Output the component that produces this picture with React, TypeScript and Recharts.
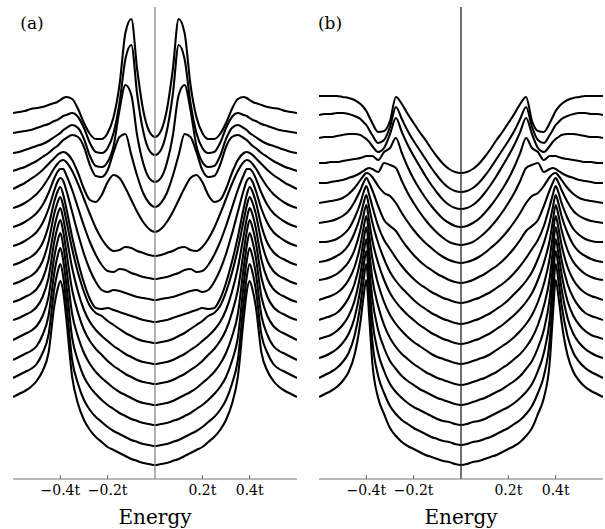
import React from "react";
import { LineChart, Line, XAxis, YAxis, ReferenceLine } from "recharts";

// energy grid for E >= 0 (curves are symmetric in E)
const halfEnergy = [
  0, 0.025, 0.05, 0.075, 0.1, 0.125, 0.15, 0.175, 0.2, 0.225, 0.25, 0.275, 0.3,
  0.325, 0.35, 0.375, 0.3875, 0.4, 0.4125, 0.425, 0.45, 0.475, 0.5, 0.525, 0.55,
  0.575, 0.6,
];

const energyTicks = [-0.4, -0.2, 0.2, 0.4];

// panel (a): offset DOS curves, top to bottom
const a00 = [342, 348, 369, 409, 460, 446, 394, 362, 346, 340, 340, 345, 356, 370, 380, 382, 381, 379, 377, 376, 374, 372, 371, 370, 368, 367, 366];
const a01 = [324, 329, 348, 384, 434, 420, 376, 346, 331, 326, 327, 336, 351, 362, 366, 364, 363, 361, 359, 358, 355, 353, 351, 349, 348, 347, 346];
const a02 = [297, 301, 316, 343, 384, 394, 369, 333, 317, 312, 313, 323, 340, 351, 354, 351, 349, 346, 344, 342, 338, 335, 333, 331, 329, 327, 326];
const a03 = [272, 276, 286, 303, 324, 345, 342, 327, 309, 302, 303, 314, 332, 342, 344, 341, 339, 336, 333, 331, 326, 322, 318, 315, 312, 310, 308];
const a04 = [247, 250, 257, 267, 279, 291, 301, 304, 297, 284, 277, 279, 290, 306, 319, 326, 327, 326, 324, 321, 315, 309, 304, 300, 296, 293, 290];
const a05 = [223, 224, 226, 228, 231, 232, 229, 228, 232, 240, 251, 265, 280, 295, 308, 317, 319, 318, 315, 311, 301, 292, 285, 280, 276, 273, 271];
const a06 = [200, 201, 202, 204, 206, 209, 210, 207, 208, 214, 224, 237, 253, 271, 289, 304, 310, 310, 307, 301, 286, 274, 266, 261, 257, 254, 252];
const a07 = [179, 180, 181, 182, 184, 186, 188, 189, 187, 189, 197, 209, 225, 245, 267, 289, 298, 301, 297, 289, 270, 256, 247, 242, 238, 235, 233];
const a08 = [157, 158, 159, 161, 163, 165, 167, 169, 171, 170, 171, 180, 196, 217, 242, 271, 284, 292, 287, 278, 253, 236, 227, 222, 219, 216, 214];
const a09 = [136, 137, 138, 140, 143, 146, 150, 154, 158, 163, 166, 173, 187, 206, 230, 259, 273, 282, 276, 266, 237, 218, 208, 203, 200, 197, 195];
const a10 = [115, 116, 117, 119, 122, 125, 129, 133, 138, 143, 149, 157, 169, 187, 211, 244, 260, 271, 264, 252, 219, 200, 190, 185, 182, 179, 177];
const a11 = [95, 96, 97, 99, 102, 105, 109, 113, 118, 124, 130, 138, 149, 166, 189, 228, 247, 259, 251, 238, 201, 182, 172, 167, 164, 161, 159];
const a12 = [74, 75, 76, 78, 81, 84, 87, 91, 96, 101, 107, 115, 126, 142, 165, 212, 233, 246, 237, 223, 182, 163, 153, 148, 145, 142, 139];
const a13 = [54, 55, 56, 58, 60, 63, 66, 70, 74, 79, 85, 92, 102, 118, 141, 195, 218, 231, 222, 207, 163, 144, 133, 128, 125, 122, 119];
const a14 = [33, 34, 35, 37, 39, 42, 45, 48, 52, 57, 62, 69, 79, 95, 119, 177, 202, 215, 206, 191, 144, 126, 115, 110, 107, 104, 101];
const a15 = [14, 15, 16, 18, 20, 23, 26, 29, 32, 37, 42, 49, 59, 75, 102, 161, 187, 198, 189, 174, 126, 108, 98, 92, 88, 85, 82];

// panel (b)
const b00 = [306, 307, 310, 315, 322, 330, 339, 347, 356, 365, 375, 382, 358, 348, 347, 356, 362, 368, 372, 375, 379, 381, 382, 383, 383, 383, 383];
const b01 = [287, 288, 291, 296, 303, 311, 320, 329, 338, 348, 360, 372, 352, 339, 336, 344, 349, 354, 357, 360, 363, 365, 366, 366, 365, 365, 364];
const b02 = [270, 271, 274, 279, 286, 294, 303, 313, 323, 334, 347, 361, 345, 331, 327, 333, 337, 340, 342, 344, 345, 345, 344, 343, 342, 342, 341];
const b03 = [252, 253, 256, 260, 266, 273, 281, 290, 300, 312, 326, 341, 331, 327, 319, 323, 323, 323, 322, 321, 320, 319, 318, 317, 317, 316, 316];
const b04 = [234, 235, 237, 241, 246, 252, 259, 267, 276, 286, 298, 311, 314, 316, 307, 310, 311, 310, 308, 306, 303, 301, 299, 298, 297, 296, 296];
const b05 = [216, 217, 219, 222, 226, 231, 236, 242, 249, 257, 266, 276, 283, 286, 293, 302, 305, 306, 303, 299, 291, 285, 281, 279, 278, 277, 276];
const b06 = [196, 197, 199, 202, 205, 209, 213, 218, 224, 231, 239, 248, 253, 259, 273, 289, 296, 301, 296, 289, 277, 268, 263, 260, 258, 257, 256];
const b07 = [176, 177, 179, 181, 184, 187, 191, 195, 200, 206, 213, 221, 230, 239, 253, 273, 284, 293, 286, 276, 261, 250, 244, 240, 238, 237, 237];
const b08 = [155, 156, 158, 160, 163, 166, 170, 174, 179, 185, 191, 198, 207, 220, 236, 257, 271, 284, 275, 263, 246, 234, 227, 223, 220, 218, 217];
const b09 = [135, 136, 138, 140, 143, 146, 150, 154, 159, 164, 170, 177, 186, 199, 216, 239, 257, 274, 263, 249, 229, 217, 210, 205, 202, 200, 199];
const b10 = [115, 116, 118, 120, 122, 125, 129, 133, 137, 142, 148, 155, 164, 177, 195, 221, 243, 263, 250, 234, 212, 199, 191, 186, 183, 181, 179];
const b11 = [94, 95, 97, 99, 101, 104, 107, 111, 115, 120, 125, 132, 141, 154, 173, 201, 227, 252, 237, 219, 195, 181, 172, 166, 163, 161, 159];
const b12 = [74, 75, 77, 79, 81, 84, 87, 90, 94, 98, 103, 110, 118, 131, 149, 181, 211, 240, 224, 205, 178, 163, 154, 148, 144, 142, 140];
const b13 = [54, 55, 57, 58, 60, 63, 66, 69, 72, 76, 81, 87, 95, 108, 126, 160, 196, 228, 211, 190, 161, 145, 136, 130, 126, 123, 121];
const b14 = [34, 35, 37, 38, 40, 42, 45, 48, 51, 55, 59, 65, 73, 86, 103, 139, 179, 215, 197, 174, 143, 126, 117, 111, 107, 104, 101];
const b15 = [14, 15, 17, 18, 20, 22, 24, 27, 30, 33, 37, 43, 51, 65, 81, 117, 161, 199, 181, 157, 124, 107, 98, 92, 88, 85, 82];

const panelA = [a00, a01, a02, a03, a04, a05, a06, a07, a08, a09, a10, a11, a12, a13, a14, a15];
const panelB = [b00, b01, b02, b03, b04, b05, b06, b07, b08, b09, b10, b11, b12, b13, b14, b15];

// mirror the E>=0 readings onto E<0
function buildRows(curves: number[][]) {
  const rows: Record<string, number>[] = [];
  const n = halfEnergy.length;
  for (let i = n - 1; i >= 1; i--) {
    const row: Record<string, number> = { e: -halfEnergy[i] };
    curves.forEach((c, k) => (row["c" + k] = c[i]));
    rows.push(row);
  }
  for (let i = 0; i < n; i++) {
    const row: Record<string, number> = { e: halfEnergy[i] };
    curves.forEach((c, k) => (row["c" + k] = c[i]));
    rows.push(row);
  }
  return rows;
}

const SERIF = "'DejaVu Serif', serif";

const fmtTick = (v: number) => (v < 0 ? "\u2212" : "") + Math.abs(v).toFixed(1) + "t";

const EnergyTick = (props: any) => {
  const { x, y, payload } = props;
  return (
    <g>
      <line x1={x} x2={x} y1={y} y2={y - 4} stroke="#666" strokeWidth={1} />
      <text x={x} y={y + 16} textAnchor="middle" fontFamily={SERIF} fontSize={14} fill="#000">
        {fmtTick(payload.value)}
      </text>
    </g>
  );
};

const EnergyLabel = (props: any) => {
  const vb = props.viewBox;
  return (
    <text x={vb.x + vb.width / 2} y={vb.y + 45} textAnchor="middle" fontFamily={SERIF} fontSize={20} fill="#000">
      Energy
    </text>
  );
};

function Panel({ curves, left, marginLeft, marginRight, centerColor, tag }: any) {
  const rows = buildRows(curves);
  return (
    <div style={{ position: "absolute", left, top: 0, width: 300, height: 529 }}>
      <LineChart width={300} height={529} data={rows} margin={{ top: 7, right: marginRight, left: marginLeft, bottom: 0 }}>
        <XAxis
          dataKey="e"
          type="number"
          domain={[-0.6, 0.6]}
          ticks={energyTicks}
          allowDataOverflow
          height={50}
          tickSize={0}
          tickMargin={0}
          tickLine={false}
          axisLine={{ stroke: "#777", strokeWidth: 1.2 }}
          tick={<EnergyTick />}
          label={<EnergyLabel />}
        />
        <YAxis hide type="number" domain={[0, 472]} allowDataOverflow />
        {curves.map((_: number[], k: number) => (
          <Line
            key={k}
            dataKey={"c" + k}
            type="monotone"
            stroke="#000"
            strokeWidth={2.1}
            dot={false}
            isAnimationActive={false}
          />
        ))}
        <ReferenceLine x={0} stroke={centerColor} strokeWidth={1.3} />
      </LineChart>
      <svg width={60} height={40} style={{ position: "absolute", left: 0, top: 0, pointerEvents: "none" }}>
        <text x={tag.x} y={29} textAnchor="middle" fontFamily={SERIF} fontSize={17} fill="#000">
          {tag.text}
        </text>
      </svg>
    </div>
  );
}

export default function App() {
  return (
    <div style={{ position: "absolute", left: 0, top: 0, width: 605, height: 529, background: "#fff" }}>
      <Panel curves={panelA} left={0} marginLeft={13} marginRight={3} centerColor="#888" tag={{ x: 32, text: "(a)" }} />
      <Panel curves={panelB} left={305} marginLeft={14} marginRight={2} centerColor="#222" tag={{ x: 25, text: "(b)" }} />
    </div>
  );
}
